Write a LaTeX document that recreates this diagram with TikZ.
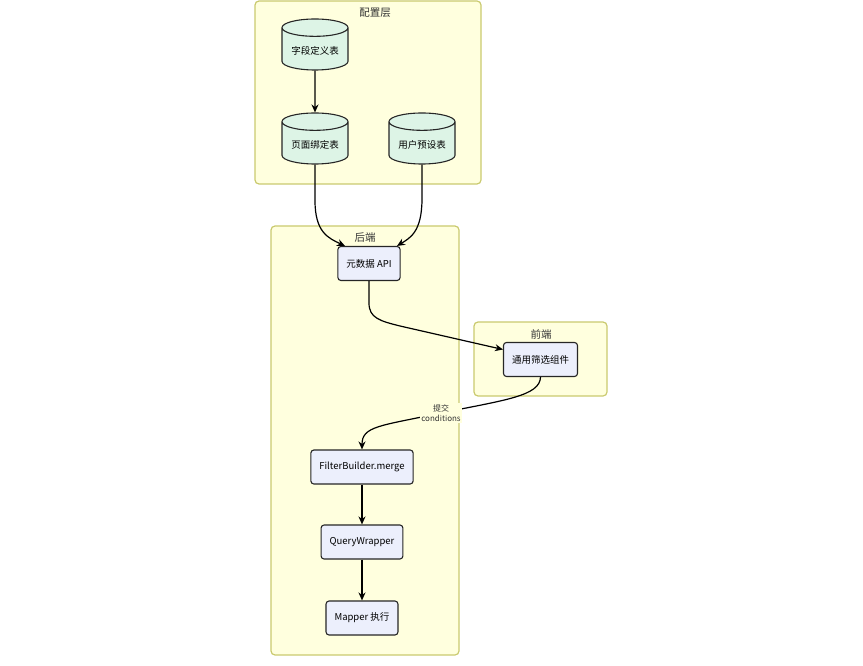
\documentclass[tikz,border=0pt]{standalone}
\usepackage{fontspec}
\setmainfont{Noto Sans CJK SC}
\usetikzlibrary{shapes.geometric,arrows.meta,calc}
\definecolor{GroupFill}{HTML}{FFFFDE}
\definecolor{GroupLine}{HTML}{CACA6E}
\definecolor{StoreFill}{HTML}{DDF4E6}
\definecolor{StepFill}{HTML}{ECEFFC}

\begin{document}
\begin{tikzpicture}[x=1pt,y=-1pt,
    group/.style={draw=GroupLine, fill=GroupFill, line width=1.2pt, rounded corners=4pt},
    grouptitle/.style={font=\fontsize{10.5}{12}\selectfont, text=black!80},
    store/.style={draw=black!85, fill=StoreFill, line width=1.1pt, shape=cylinder, shape border rotate=90, aspect=0.32, minimum width=66pt, minimum height=51pt, font=\fontsize{9.5}{11}\selectfont},
    stepbox/.style={draw=black!85, fill=StepFill, line width=1.1pt, rounded corners=3pt, minimum height=34pt, inner xsep=8.5pt, font=\fontsize{9.5}{11}\selectfont},
    flow/.style={-{Stealth[length=8pt,width=7pt]}, line width=1.2pt},
    lbl/.style={fill=GroupFill, inner sep=1.5pt, align=center, font=\fontsize{8}{10}\selectfont, text=black!80}]
  \useasboundingbox (0,0) rectangle (863,666);

  % groups
  \draw[group] (255,1) rectangle (481,184);
  \node[grouptitle] (tcfg) at (375,13) {配置层};
  \draw[group] (271,226) rectangle (459,655);
  \node[grouptitle] (tback) at (365,238) {后端};
  \draw[group] (474,322) rectangle (607,396);
  \node[grouptitle] (tfront) at (541,334) {前端};

  % config tables
  \node[store] (fielddef) at (315,51) {字段定义表};
  \node[store] (pagebind) at (315,145) {页面绑定表};
  \node[store] (userpre) at (422,145) {用户预设表};

  % backend / frontend steps
  \node[stepbox] (metaapi) at (369,263.5) {元数据 API};
  \node[stepbox] (filtercomp) at (540.5,359.5) {通用筛选组件};
  \node[stepbox] (merge) at (362,467) {FilterBuilder.merge};
  \node[stepbox] (wrapper) at (362,542) {QueryWrapper};
  \node[stepbox] (mapper) at (362,618) {Mapper 执行};

  % edges
  \draw[flow] (fielddef) -- (pagebind);
  \draw[flow] (pagebind.south) -- ++(0,36) .. controls (315,232) and (328,238) .. ([xshift=-24pt]metaapi.north);
  \draw[flow] (userpre.south) -- ++(0,34) .. controls (422,232) and (410,238) .. ([xshift=28pt]metaapi.north);
  \draw[flow] (metaapi.south) -- ++(0,22) .. controls (369,318) and (380,321) .. (400,326) -- ([yshift=10pt]filtercomp.west);
  \draw[flow] (filtercomp.south) .. controls (540,396) and (505,400) .. (441,413) node[lbl] (submit) {提交\\conditions}
    .. controls (380,426) and (362,426) .. (merge.north);
  \draw[flow] (merge) -- (wrapper);
  \draw[flow] (wrapper) -- (mapper);
\end{tikzpicture}
\end{document}
